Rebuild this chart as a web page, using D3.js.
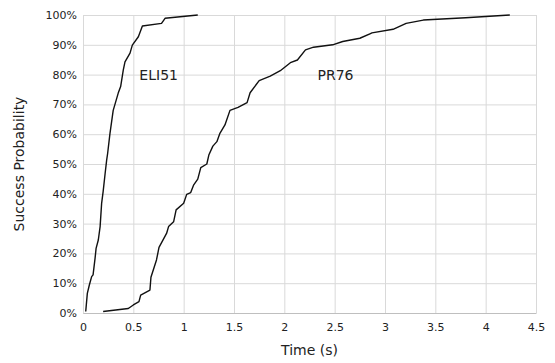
<!DOCTYPE html>
<html>
<head>
<meta charset="utf-8">
<script src="https://cdn.jsdelivr.net/npm/d3@7"></script>
<style>
  body { margin: 0; background: #fff; }
  text { font-family: "DejaVu Sans", sans-serif; fill: #222; }
</style>
</head>
<body>
<svg id="chart" width="555" height="363"></svg>
<script>
// values
var xTicks = [0, 0.5, 1, 1.5, 2, 2.5, 3, 3.5, 4, 4.5];
var yTicks = [0, 0.1, 0.2, 0.3, 0.4, 0.5, 0.6, 0.7, 0.8, 0.9, 1];

var eliTime = [0.027, 0.043, 0.063, 0.086, 0.10, 0.12, 0.13, 0.152, 0.17, 0.185, 0.2, 0.22, 0.235, 0.245, 0.268, 0.30, 0.35, 0.374, 0.40, 0.417, 0.467, 0.49, 0.55, 0.59, 0.78, 0.815, 1.14];
var eliProb = [0.005, 0.066, 0.094, 0.122, 0.128, 0.184, 0.217, 0.245, 0.29, 0.368, 0.407, 0.469, 0.513, 0.536, 0.603, 0.68, 0.738, 0.76, 0.815, 0.843, 0.872, 0.899, 0.927, 0.963, 0.972, 0.989, 1.0];

var prTime = [0.2, 0.45, 0.5, 0.556, 0.573, 0.665, 0.675, 0.73, 0.755, 0.83, 0.85, 0.9, 0.925, 1.0, 1.03, 1.07, 1.1, 1.14, 1.17, 1.23, 1.25, 1.29, 1.33, 1.36, 1.41, 1.46, 1.54, 1.63, 1.66, 1.75, 1.86, 1.96, 2.06, 2.13, 2.21, 2.29, 2.48, 2.58, 2.75, 2.85, 2.87, 3.08, 3.21, 3.38, 3.8, 4.24];
var prProb = [0.005, 0.015, 0.027, 0.038, 0.06, 0.077, 0.12, 0.178, 0.22, 0.267, 0.29, 0.306, 0.346, 0.368, 0.398, 0.404, 0.43, 0.449, 0.488, 0.50, 0.53, 0.56, 0.575, 0.603, 0.631, 0.68, 0.69, 0.706, 0.739, 0.78, 0.795, 0.813, 0.84, 0.849, 0.883, 0.892, 0.90, 0.911, 0.922, 0.937, 0.94, 0.952, 0.972, 0.983, 0.991, 1.0];

var series = [
  { name: "ELI51", t: eliTime, p: eliProb, lx: 0.56, ly: 0.80 },
  { name: "PR76", t: prTime, p: prProb, lx: 2.33, ly: 0.80 }
];

var svg = d3.select("#chart");
var plotL = 83, plotR = 536, plotT = 15, plotB = 313;

var x = d3.scaleLinear().domain([0, 4.5]).range([plotL, plotR]);
var y = d3.scaleLinear().domain([0, 1]).range([plotB, plotT]);

// grid
svg.append("g")
  .attr("transform", "translate(0," + plotB + ")")
  .call(d3.axisBottom(x).tickValues(xTicks).tickSize(-(plotB - plotT)).tickFormat(""))
  .call(function(g) {
    g.select(".domain").remove();
    g.selectAll("line").attr("stroke", "#d9d9d9");
  });
svg.append("g")
  .attr("transform", "translate(" + plotL + ",0)")
  .call(d3.axisLeft(y).tickValues(yTicks).tickSize(-(plotR - plotL)).tickFormat(""))
  .call(function(g) {
    g.select(".domain").remove();
    g.selectAll("line").attr("stroke", "#d9d9d9");
  });

// axes labels
svg.append("g")
  .attr("transform", "translate(0," + plotB + ")")
  .call(d3.axisBottom(x).tickValues(xTicks).tickSize(0).tickPadding(10).tickFormat(d3.format("")))
  .call(function(g) {
    g.select(".domain").attr("stroke", "#bfbfbf");
    g.selectAll("text").style("font-size", "11px").attr("fill", "#222");
  });
svg.append("g")
  .attr("transform", "translate(" + plotL + ",0)")
  .call(d3.axisLeft(y).tickValues(yTicks).tickSize(0).tickPadding(6).tickFormat(d3.format(".0%")))
  .call(function(g) {
    g.select(".domain").remove();
    g.selectAll("text").style("font-size", "11px").attr("fill", "#222");
  });

var line = d3.line()
  .x(function(d) { return x(d[0]); })
  .y(function(d) { return y(d[1]); });

series.forEach(function(s) {
  var pts = d3.zip(s.t, s.p);
  svg.append("path")
    .attr("d", line(pts))
    .attr("fill", "none")
    .attr("stroke", "#111")
    .attr("stroke-width", 1.4)
    .attr("stroke-linejoin", "round");
  svg.append("text")
    .attr("x", x(s.lx))
    .attr("y", y(s.ly))
    .attr("dy", "0.35em")
    .style("font-size", "14px")
    .text(s.name);
});

svg.append("text")
  .attr("x", (plotL + plotR) / 2)
  .attr("y", 355)
  .attr("text-anchor", "middle")
  .style("font-size", "14px")
  .text("Time (s)");

svg.append("text")
  .attr("transform", "translate(24," + (plotT + plotB) / 2 + ") rotate(-90)")
  .attr("text-anchor", "middle")
  .style("font-size", "14px")
  .text("Success Probability");
</script>
</body>
</html>
